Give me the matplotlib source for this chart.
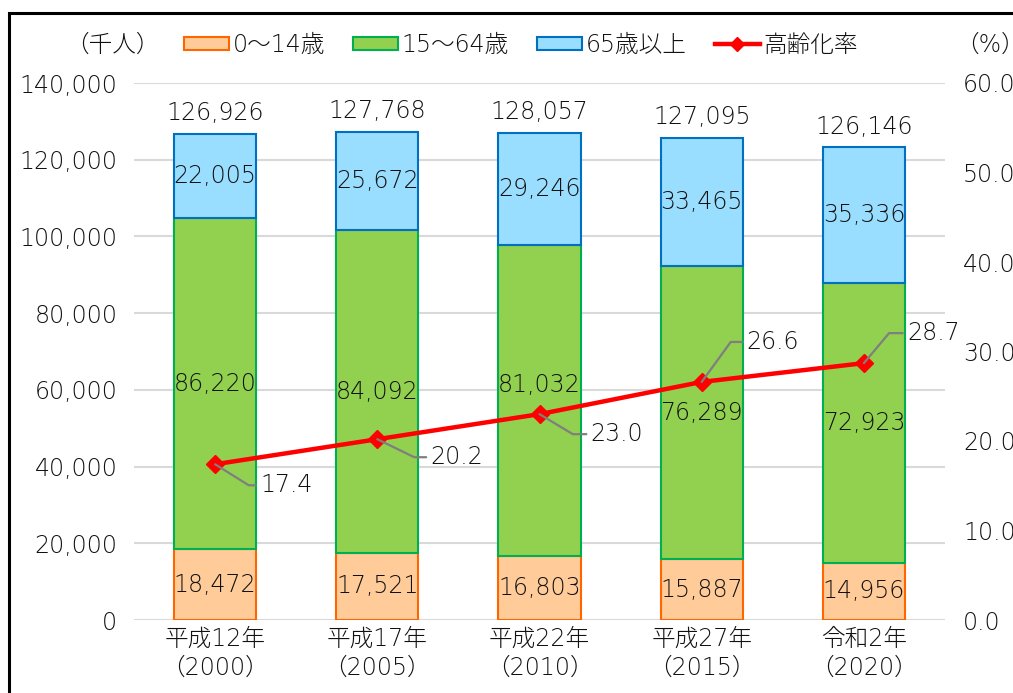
import matplotlib
matplotlib.use('Agg')
import matplotlib.pyplot as plt
from matplotlib.patches import Patch, Rectangle
from matplotlib.lines import Line2D

plt.rcParams['font.family'] = ['DejaVu Sans', 'Noto Sans CJK JP']
plt.rcParams['font.weight'] = 'light'

# data
categories = ['平成12年\n（2000）', '平成17年\n（2005）', '平成22年\n（2010）',
              '平成27年\n（2015）', '令和2年\n（2020）']
age_0_14 = [18472, 17521, 16803, 15887, 14956]
age_15_64 = [86220, 84092, 81032, 76289, 72923]
age_65_over = [22005, 25672, 29246, 33465, 35336]
totals = [126926, 127768, 128057, 127095, 126146]
aging_rate = [17.4, 20.2, 23.0, 26.6, 28.7]

# label leader offsets in pixels (dx, dy) and angle of the slanted part
leader_px = [(45, -21, -32), (53, -18, -26), (51, -20, -31), (45, 40, 54), (43, 30, 50)]
# 15-64 labels nudged in the original to keep clear of the line (points)
mid_shift = [0, 0, 11, 0, 0]

txt = '#111111'
fs = 17
W, H = 1013, 693

fig = plt.figure(figsize=(W / 100, H / 100), dpi=100)
ax = fig.add_axes([134 / W, 73 / H, 811 / W, 537 / H])
ax2 = ax.twinx()

x = list(range(len(categories)))
bw = 0.506
ax.bar(x, age_0_14, bw, color='#FFCC99', edgecolor='#FF6600', linewidth=1.5, zorder=2)
bottom2 = age_0_14
ax.bar(x, age_15_64, bw, bottom=bottom2, color='#92D050', edgecolor='#00B050',
       linewidth=1.5, zorder=2)
bottom3 = [a + b for a, b in zip(age_0_14, age_15_64)]
ax.bar(x, age_65_over, bw, bottom=bottom3, color='#99DDFF', edgecolor='#0070C0',
       linewidth=1.5, zorder=2)

# segment labels
for i in x:
    ax.text(i, age_0_14[i] / 2, f'{age_0_14[i]:,}', ha='center', va='center',
            fontsize=fs, color=txt, zorder=3)
    ax.annotate(f'{age_15_64[i]:,}', (i, bottom2[i] + age_15_64[i] / 2),
                xytext=(0, mid_shift[i]), textcoords='offset points',
                ha='center', va='center', fontsize=fs, color=txt, zorder=3)
    ax.text(i, bottom3[i] + age_65_over[i] / 2, f'{age_65_over[i]:,}', ha='center', va='center',
            fontsize=fs, color=txt, zorder=3)
    top = bottom3[i] + age_65_over[i]
    ax.annotate(f'{totals[i]:,}', (i, top), xytext=(0, 15), textcoords='offset points',
                ha='center', va='center', fontsize=fs, color=txt)

ax.set_xlim(-0.5, len(categories) - 0.5)
ax.set_ylim(0, 140000)
ax.set_yticks(range(0, 140001, 20000))
ax.set_yticklabels([f'{v:,}' for v in range(0, 140001, 20000)])
ax.set_xticks(x)
ax.set_xticklabels(categories, linespacing=1.25)
ax.tick_params(axis='y', length=0, pad=12, labelsize=fs, labelcolor=txt)
ax.tick_params(axis='x', length=0, pad=5, labelsize=fs, labelcolor=txt)
ax.grid(axis='y', color='#D9D9D9', linewidth=1.5, zorder=0)
ax.set_axisbelow(True)
for s in ax.spines.values():
    s.set_visible(False)

# aging rate line
ax2.plot(x, aging_rate, color='#FF0000', linewidth=3.2, marker='D', markersize=9.5, zorder=5)
ax2.set_ylim(0, 60)
ax2.set_yticks(range(0, 61, 10))
ax2.set_yticklabels([f'{v:.1f}' for v in range(0, 61, 10)])
ax2.tick_params(axis='y', length=0, pad=13, labelsize=fs, labelcolor=txt)
for s in ax2.spines.values():
    s.set_visible(False)

for i, (dx, dy, ang) in enumerate(leader_px):
    ax2.annotate(f'{aging_rate[i]:.1f}', (i, aging_rate[i]),
                 xytext=(dx * 0.72, dy * 0.72), textcoords='offset points',
                 ha='left', va='center', fontsize=fs, color=txt, zorder=6,
                 arrowprops=dict(arrowstyle='-', color='#7F7F7F', lw=1.6,
                                 shrinkA=1, shrinkB=0, relpos=(0, 0.5),
                                 connectionstyle=f'angle,angleA=0,angleB={ang},rad=0'))

# legend
handles = [Patch(facecolor='#FFCC99', edgecolor='#FF6600', linewidth=1.5),
           Patch(facecolor='#92D050', edgecolor='#00B050', linewidth=1.5),
           Patch(facecolor='#99DDFF', edgecolor='#0070C0', linewidth=1.5),
           Line2D([], [], color='#FF0000', linewidth=3.2, marker='D', markersize=7)]
labels = ['0～14歳', '15～64歳', '65歳以上', '高齢化率']
leg = fig.legend(handles, labels, ncol=4, loc='center', bbox_to_anchor=(521 / W, 1 - 45 / H),
                 frameon=False, fontsize=fs, handlelength=1.9, handleheight=0.5,
                 handletextpad=0.15, columnspacing=1.2, borderpad=0)
for t in leg.get_texts():
    t.set_color(txt)

fig.text(65 / W, 1 - 45 / H, '（千人）', ha='left', va='center', fontsize=fs, color=txt)
fig.text(955 / W, 1 - 45 / H, '（%）', ha='left', va='center', fontsize=fs, color=txt)

# outer frame
fig.patches.append(Rectangle((9 / W, -0.1), 1.2, 1.1 - 13 / H, transform=fig.transFigure,
                             fill=False, edgecolor='black', linewidth=2.2))

fig.savefig('out.png', dpi=100)
